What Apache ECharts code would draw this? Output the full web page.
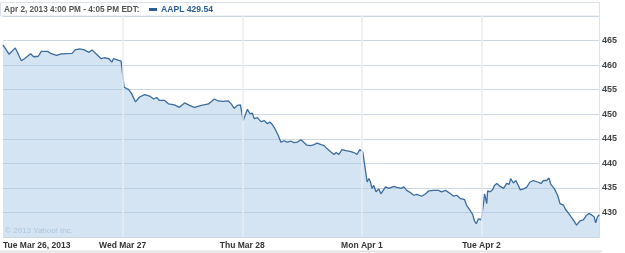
<!DOCTYPE html>
<html>
<head>
<meta charset="utf-8">
<script src="https://cdn.jsdelivr.net/npm/echarts@6/dist/echarts.min.js"></script>
<style>html,body{margin:0;padding:0;background:#fff}#c{width:625px;height:253px}</style>
</head>
<body>
<div id="c"></div>
<script>
// Trading minutes since open (0-390) and AAPL prices, one pair of arrays per day
const dayLabels = ["Tue Mar 26, 2013", "Wed Mar 27", "Thu Mar 28", "Mon Apr 1", "Tue Apr 2"];
const yTicks = [430, 435, 440, 445, 450, 455, 460, 465];

const t1 = [0,20,40,60,70,90,100,115,125,145,155,175,190,225,235,250,265,280,290,305,320,330,345,355,360,370,385];
const v1 = [464.1,462.2,463.5,460.9,461.3,462.3,461.7,461.8,462.8,462.8,462.4,462.0,462.3,462.4,463.1,463.3,463.1,462.6,463.1,462.2,461.3,461.5,461.3,460.6,461.3,461.1,460.8];

const t2 = [5,10,20,29,42,55,72,88,101,111,120,137,150,169,185,202,218,234,257,280,299,312,328,345,354,364,374,384];
const v2 = [455.5,455.2,455.0,454.2,452.5,453.5,454.0,453.7,453.1,453.4,452.8,452.8,452.1,451.9,451.4,452.3,451.8,451.4,451.8,452.1,453.1,452.7,452.6,452.7,452.1,451.2,451.8,451.9];

const t3 = [3,17,25,33,39,49,61,72,81,90,98,107,117,126,137,146,159,169,179,191,202,211,223,234,244,257,267,276,289,299,306,315,325,338,354,364,374,383];
const v3 = [448.7,451.0,450.1,450.2,449.1,449.3,448.5,448.7,448.1,448.4,447.9,447.0,445.7,444.3,444.6,444.3,444.5,444.2,444.3,444.8,444.2,443.7,443.6,443.8,444.1,443.8,443.6,443.0,442.3,441.8,442.2,441.8,442.8,442.6,442.4,442.2,441.8,442.8];

const t4 = [3,10,17,23,28,33,39,46,55,62,65,77,88,94,104,114,127,137,146,159,169,179,195,208,218,234,250,260,273,289,299,309,322,335,341,354,361,367,373,380,389];
const v4 = [442.3,439.3,436.2,436.9,436.2,434.9,435.5,434.2,434.8,433.8,433.5,435.2,434.9,434.5,435.3,435.1,434.9,435.2,434.5,434.0,433.5,433.7,433.3,433.8,434.4,434.5,434.5,434.2,434.5,433.8,433.3,433.5,432.8,432.6,431.5,430.3,429.6,428.3,427.7,428.7,428.5];

const t5 = [0,7,10,14,17,20,28,36,42,50,61,72,82,90,95,104,112,120,126,137,147,158,169,183,194,202,212,220,226,237,248,256,267,274,283,292,299,310,321,332,342,350,359,367,372,378,384];
const v5 = [428.5,432.1,433.8,433.9,431.8,434.4,434.2,434.6,435.5,435.9,435.3,434.9,435.9,435.7,436.9,436.0,436.5,435.5,434.6,434.8,435.1,436.2,436.5,436.2,435.9,436.5,436.5,437.0,435.7,434.9,433.5,431.8,431.5,430.6,429.9,429.1,428.5,427.4,428.3,428.5,429.4,429.8,429.5,429.1,427.9,429.1,429.54];

const DAY = 390;
const times = [t1, t2, t3, t4, t5];
const vals = [v1, v2, v3, v4, v5];
const data = [];
times.forEach((ts, d) => ts.forEach((m, i) => data.push([d * DAY + m, vals[d][i]])));

const chart = echarts.init(document.getElementById('c'), null, {renderer: 'canvas'});
const lab = {fontFamily: 'Liberation Sans', fontWeight: 'bold', fontSize: 8.5, color: '#333'};
chart.setOption({
  animation: false,
  grid: {left: 1, right: 26, top: 16, bottom: 16},
  xAxis: {
    type: 'value', min: 0, max: 1943, interval: DAY,
    axisLine: {show: false}, axisTick: {show: false},
    splitLine: {show: false},
    axisLabel: Object.assign({}, lab, {
      margin: 4, showMaxLabel: false, alignMinLabel: 'left',
      formatter: v => dayLabels[Math.round(v / DAY)] || ''
    })
  },
  yAxis: {
    type: 'value', position: 'right', min: 425, max: 470, interval: 5,
    axisLine: {show: false}, axisTick: {show: false},
    splitLine: {lineStyle: {color: '#cbd8e4', width: 1}},
    axisLabel: Object.assign({}, lab, {
      margin: 3, color: '#444', fontSize: 9,
      formatter: v => yTicks.indexOf(v) >= 0 ? String(v) : ''
    })
  },
  series: [{
    type: 'line', data: data, symbol: 'none', smooth: false,
    lineStyle: {color: '#3c6c9e', width: 1.3},
    areaStyle: {color: 'rgba(160,196,226,0.45)', opacity: 1, origin: 'start'},
    markLine: {
      silent: true, symbol: 'none', label: {show: false}, z: 5,
      lineStyle: {color: '#e8edf2', width: 1.5, type: 'solid'},
      data: [1, 2, 3, 4].map(d => ({xAxis: d * DAY}))
    },
    z: 3
  }],
  graphic: [
    {type: 'rect', shape: {x: 0.5, y: 2.5, width: 599, height: 13.5}, style: {fill: '#fff', stroke: '#dde3ea', lineWidth: 1}},
    {type: 'line', shape: {x1: 599.5, y1: 2, x2: 599.5, y2: 238}, style: {stroke: '#dde3ea', lineWidth: 1}},
    {type: 'line', shape: {x1: 0, y1: 251.5, x2: 602, y2: 251.5}, style: {stroke: '#e3e3e3', lineWidth: 2}},
    {type: 'text', x: 4, y: 9.5, style: {text: 'Apr 2, 2013 4:00 PM - 4:05 PM EDT:', fontFamily: 'Liberation Sans', fontWeight: 'bold', fontSize: 8.2, fill: '#555', verticalAlign: 'middle'}},
    {type: 'rect', shape: {x: 149, y: 8, width: 8, height: 3}, style: {fill: '#2b5e96'}},
    {type: 'text', x: 161, y: 9.5, style: {text: 'AAPL 429.54', fontFamily: 'Liberation Sans', fontWeight: 'bold', fontSize: 8.6, fill: '#2b5e96', verticalAlign: 'middle'}},
    {type: 'text', x: 5, y: 231, style: {text: '© 2013 Yahoo! Inc.', fontFamily: 'Liberation Sans', fontSize: 8, fill: '#b8c4d0', verticalAlign: 'middle'}}
  ]
});
</script>
</body>
</html>
